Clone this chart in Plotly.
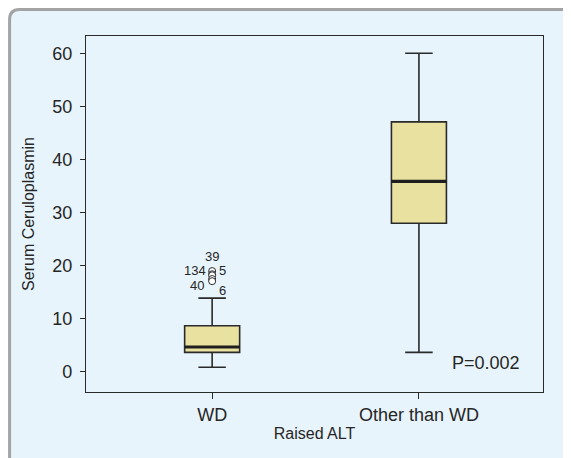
import plotly.graph_objects as go

categories = ["WD", "Other than WD"]
lower_whisker = [0.9, 3.7]
q1 = [3.7, 28.0]
median = [4.7, 35.9]
q3 = [8.7, 47.1]
upper_whisker = [13.9, 60.0]

outlier_values = [19.0, 18.4, 18.2, 17.5, 17.1]
outlier_labels = ["39", "134", "5", "40", "6"]
outlier_textpos = ["top center", "middle left", "middle right", "bottom left", "bottom right"]

p_text = "P=0.002"

# figure sits at page offset (8, 8) because of the body margin
W, H = 563, 450
L, R, T, B = 78, 27.5, 28, 66
pw, ph = W - L - R, H - T - B

FONT = "Liberation Sans, Arial, sans-serif"
TXT = "#262626"
BOX_W = 0.266

fig = go.Figure()
fig.add_trace(go.Box(
    x=categories,
    q1=q1, median=median, q3=q3,
    lowerfence=lower_whisker, upperfence=upper_whisker,
    fillcolor="#e8e1a0",
    line=dict(color="#2a2a2a", width=1.6),
    width=BOX_W, whiskerwidth=0.5,
    boxpoints=False, showlegend=False, hoverinfo="skip",
))

# thick median lines
for i, m in enumerate(median):
    fig.add_shape(type="line", xref="x", yref="y",
                  x0=i - BOX_W / 2, x1=i + BOX_W / 2, y0=m, y1=m,
                  line=dict(color="#1e1e1e", width=3.2), layer="above")

# outliers (WD group)
fig.add_trace(go.Scatter(
    x=[categories[0]] * len(outlier_values), y=outlier_values,
    mode="markers", marker=dict(size=7, color="white", line=dict(color="#2a2a2a", width=1)),
    showlegend=False, hoverinfo="skip",
))
shifts = {"top center": (0, 15), "middle left": (-4, 3.4), "middle right": (5, 4.4),
          "bottom left": (-6, -6.7), "bottom right": (4.7, -9)}
anch = {"top center": ("center", "middle"), "middle left": ("right", "middle"),
        "middle right": ("left", "middle"), "bottom left": ("right", "middle"),
        "bottom right": ("left", "middle")}
for v, lab, pos in zip(outlier_values, outlier_labels, outlier_textpos):
    dx, dy = shifts[pos]
    xa, ya = anch[pos]
    fig.add_annotation(x=0, y=v, xref="x", yref="y", text=lab, showarrow=False,
                       xanchor=xa, yanchor=ya, xshift=dx, yshift=dy,
                       font=dict(size=13, color=TXT, family=FONT))

fig.add_annotation(x=(478.9 - L) / pw, y=(384 - 355.3) / ph, xref="paper", yref="paper",
                   text=p_text, showarrow=False, xanchor="center", yanchor="middle",
                   font=dict(size=18, color=TXT, family=FONT))

# rounded outer frame
def px2paper(x, y):
    return (x - L) / pw, (H - B - y) / ph

x0p, y0p, x1p, y1p, r = 1.5, 1.5, 590, 480, 10
def P(x, y):
    a, b = px2paper(x, y)
    return f"{a:.5f},{b:.5f}"
path = (f"M {P(x0p, y0p + r)} Q {P(x0p, y0p)} {P(x0p + r, y0p)} "
        f"L {P(x1p - r, y0p)} Q {P(x1p, y0p)} {P(x1p, y0p + r)} "
        f"L {P(x1p, y1p - r)} Q {P(x1p, y1p)} {P(x1p - r, y1p)} "
        f"L {P(x0p + r, y1p)} Q {P(x0p, y1p)} {P(x0p, y1p - r)} Z")
fig.add_shape(type="path", xref="paper", yref="paper", path=path,
              fillcolor="#e7f4fc", line=dict(color="#a3a3a3", width=3), layer="below")

fig.update_layout(
    width=W, height=H,
    margin=dict(l=L, r=R, t=T, b=B, pad=0),
    paper_bgcolor="white", plot_bgcolor="rgba(0,0,0,0)",
    font=dict(family=FONT, color=TXT),
    xaxis=dict(
        type="category", range=[-0.61, 1.60],
        showline=True, linecolor="#2a2a2a", linewidth=1.2, mirror=True,
        ticks="outside", ticklen=6, tickcolor="#2a2a2a", tickwidth=1.2,
        showgrid=False, zeroline=False,
        tickfont=dict(size=18, color=TXT, family=FONT),
        title=dict(text="Raised ALT", font=dict(size=16, color=TXT, family=FONT), standoff=4),
    ),
    yaxis=dict(
        range=[-3.77, 63.26], tickvals=[0, 10, 20, 30, 40, 50, 60],
        showline=True, linecolor="#2a2a2a", linewidth=1.2, mirror=True,
        ticks="outside", ticklen=5, tickcolor="#2a2a2a", tickwidth=1.2,
        showgrid=False, zeroline=False,
        tickfont=dict(size=18, color=TXT, family=FONT), ticklabelstandoff=4,
        title=dict(text="Serum Ceruloplasmin", font=dict(size=16, color=TXT, family=FONT), standoff=13),
    ),
)

fig.write_html("out.html")
